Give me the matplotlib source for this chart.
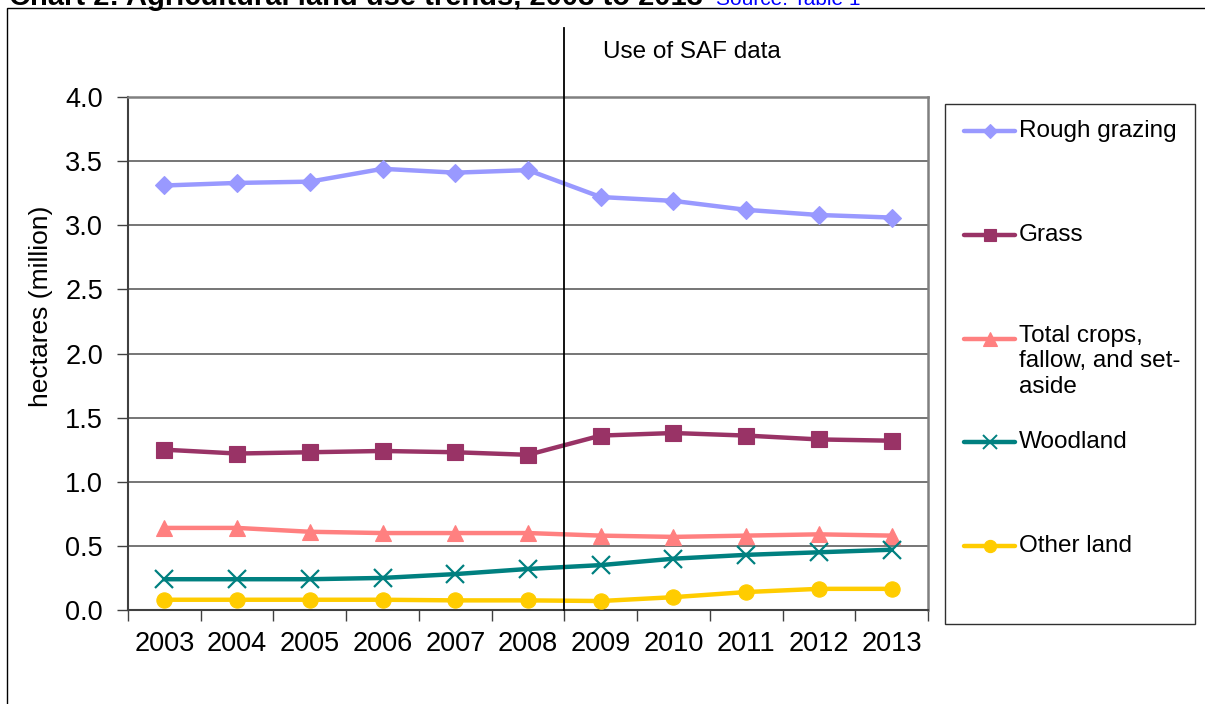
import matplotlib
matplotlib.use("Agg")
import matplotlib.pyplot as plt
from matplotlib.lines import Line2D
from matplotlib.patches import Rectangle

plt.rcParams['font.family'] = ['Liberation Sans', 'DejaVu Sans']

years = ['2003', '2004', '2005', '2006', '2007', '2008', '2009', '2010', '2011', '2012', '2013']
rough_grazing = [3.31, 3.33, 3.34, 3.44, 3.41, 3.43, 3.22, 3.19, 3.12, 3.08, 3.06]
grass = [1.25, 1.22, 1.23, 1.24, 1.23, 1.21, 1.36, 1.38, 1.36, 1.33, 1.32]
crops = [0.64, 0.64, 0.61, 0.60, 0.60, 0.60, 0.58, 0.57, 0.58, 0.59, 0.58]
woodland = [0.24, 0.24, 0.24, 0.25, 0.28, 0.32, 0.35, 0.40, 0.43, 0.45, 0.47]
other_land = [0.08, 0.08, 0.08, 0.08, 0.075, 0.075, 0.07, 0.10, 0.14, 0.165, 0.165]

series_names = ['Rough grazing', 'Grass', 'Total crops,\nfallow, and set-\naside', 'Woodland', 'Other land']
series_values = [rough_grazing, grass, crops, woodland, other_land]
colors = ['#9999FF', '#993366', '#FF8080', '#008080', '#FFCC00']
markers = ['D', 's', '^', 'x', 'o']
msizes = [9.5, 11, 12, 13, 11]

W, H = 1205, 704
fig = plt.figure(figsize=(W / 100, H / 100), dpi=100)

def fx(p):
    return p / W

def fy(p):
    return 1 - p / H

ax = fig.add_axes([fx(128), fy(610), fx(928) - fx(128), fy(97) - fy(610)])

xs = [i + 0.5 for i in range(len(years))]
for vals, c, m, ms in zip(series_values, colors, markers, msizes):
    if m == 'x':
        ax.plot(xs, vals, color=c, lw=3.2, marker=m, ms=ms, mew=1.6, mec=c,
                clip_on=False, zorder=3)
    else:
        ax.plot(xs, vals, color=c, lw=3.2, marker=m, ms=ms, mec=c, mfc=c,
                mew=0.8, clip_on=False, zorder=3)

ax.set_xlim(0, len(years))
ax.set_ylim(0, 4.0)
yt = [0, 0.5, 1.0, 1.5, 2.0, 2.5, 3.0, 3.5, 4.0]
ax.set_yticks(yt)
ax.set_yticklabels([f'{v:.1f}' for v in yt])
ax.set_xticks(range(len(years) + 1))
ax.set_xticklabels([])
ax.set_xticks(xs, minor=True)
ax.set_xticklabels(years, minor=True)
ax.tick_params(axis='x', which='major', length=8, width=1, color='#404040', direction='out')
ax.tick_params(axis='x', which='minor', length=0, pad=15, labelsize=19.5)
ax.tick_params(axis='y', which='major', length=8, width=1, color='#404040', direction='out',
               pad=10, labelsize=19.5)

ax.grid(axis='y', color='#505050', lw=1.1, zorder=0)
ax.set_axisbelow(True)
for s in ['top', 'right']:
    ax.spines[s].set_color('#808080')
    ax.spines[s].set_linewidth(1.8)
for s in ['left', 'bottom']:
    ax.spines[s].set_color('#404040')
    ax.spines[s].set_linewidth(1.5)

ax.set_ylabel('hectares (million)', fontsize=19)
ax.yaxis.set_label_coords((53 - 128) / (928 - 128), (610 - 306) / (610 - 97))

# SAF boundary line
ax.axvline(6, ymin=0, ymax=(610 - 28) / (610 - 97), color='black', lw=1.3, clip_on=False, zorder=4)
ax.text(6.53, (610 - 52) / (610 - 97), 'Use of SAF data', transform=ax.get_xaxis_transform(),
        fontsize=17.5, va='center', ha='left')

# Title (clipped at top, as in the reference)
fig.text(fx(9), fy(5), 'Chart 2: Agricultural land use trends, 2003 to 2013',
         fontsize=21, fontweight='bold', va='baseline', ha='left')
fig.text(fx(716), fy(5), 'Source: Table 1', fontsize=15, color='#0000FF',
         va='baseline', ha='left')

# Outer frame
fig.add_artist(Rectangle((fx(7), -0.1), 1.2, fy(8) + 0.1, transform=fig.transFigure,
                         fill=False, ec='black', lw=1.0))

# Legend box
fig.add_artist(Rectangle((fx(945), fy(624)), fx(1195) - fx(945), fy(104) - fy(624),
                         transform=fig.transFigure, fill=False, ec='#303030', lw=1.0))
leg_y = [131, 235, 339, 442, 546]
for name, c, m, ms, py in zip(series_names, colors, markers, msizes, leg_y):
    fig.add_artist(Line2D([fx(964), fx(1015)], [fy(py), fy(py)], color=c, lw=3.2,
                          transform=fig.transFigure, solid_capstyle='round'))
    fig.add_artist(Line2D([fx(989.5)], [fy(py)], color=c, marker=m, ms=ms * 0.8,
                          mec=c, mfc=c, mew=1.4 if m == 'x' else 0.8,
                          transform=fig.transFigure))
    if '\n' in name:
        fig.text(fx(1019), fy(py - 14), name, fontsize=17.5, va='top', ha='left',
                 linespacing=1.2)
    else:
        fig.text(fx(1019), fy(py), name, fontsize=17.5, va='center', ha='left')

fig.savefig('out.png', dpi=100)
